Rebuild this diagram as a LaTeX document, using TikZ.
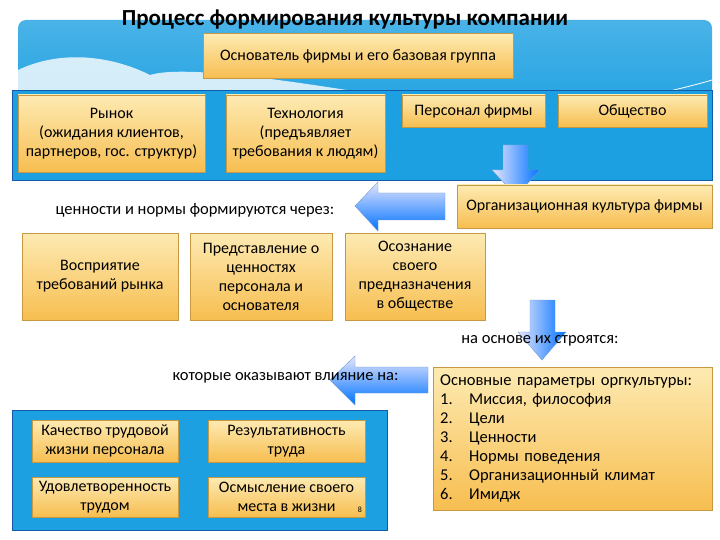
\documentclass[tikz,border=0pt]{standalone}
\usepackage{fontspec}
\setmainfont{Carlito}
\usetikzlibrary{shadows}
\definecolor{orA}{RGB}{253,234,178}
\definecolor{orB}{RGB}{247,190,80}
\definecolor{bl}{RGB}{28,160,225}
\definecolor{blD}{RGB}{20,90,170}
\tikzset{
 ob/.style={top color=orA,bottom color=orB,draw=orB!80!black,line width=0.3pt,align=center,font=\fontsize{16}{19}\selectfont,inner sep=0pt,drop shadow={opacity=0.3,shadow xshift=1pt,shadow yshift=-1pt}},
 band/.style={fill=bl,draw=blD,line width=0.8pt},
 arrV/.style={left color=blue!10,right color=blue!55!cyan,draw=blD!60,line width=0.4pt},
 arrH/.style={top color=blue!10,bottom color=blue!55!cyan,draw=blD!60,line width=0.4pt},
 lab/.style={font=\fontsize{16.5}{19}\selectfont}
}
\begin{document}
\begin{tikzpicture}[x=1pt,y=-1pt]
\useasboundingbox (0,0) rectangle (720,540);
\fill[white] (0,0) rectangle (720,540);
\shade[top color=bl!80!white,bottom color=bl,rounded corners=8pt] (18,20) rectangle (712,125);
\fill[white,opacity=0.8] (18,70) .. controls (60,50) and (110,55) .. (150,75) .. controls (200,60) and (400,100) .. (560,125) -- (18,125) -- cycle;
\draw[white,line width=0.8pt] (560,125) .. controls (620,100) and (680,90) .. (712,80);
\node[font=\bfseries\fontsize{23}{25}\selectfont] (title) at (345,20) {Процесс формирования культуры компании};
\node[ob,minimum width=310pt,minimum height=45pt] (f) at (358,56) {Основатель фирмы и его базовая группа};
\draw[band] (12,90) rectangle (712,180);
\node[ob,minimum width=187pt,minimum height=77pt] (m) at (111.5,133.5) {Рынок\\(ожидания клиентов,\\партнеров, гос. структур)};
\node[ob,minimum width=159pt,minimum height=77pt] (t) at (305.5,133.5) {Технология\\(предъявляет\\требования к людям)};
\node[ob,minimum width=143pt,minimum height=32pt] (p) at (473.5,111) {Персонал фирмы};
\node[ob,minimum width=149pt,minimum height=32pt] (s) at (632.5,111) {Общество};
\path[arrV] (503,145) -- (528,145) -- (528,170) -- (540,170) -- (516,196) -- (492,170) -- (503,170) -- cycle;
\node[ob,minimum width=255pt,minimum height=43pt] (oc) at (584.5,206.5) {Организационная культура фирмы};
\path[arrH] (445,193) -- (445,220) -- (378,220) -- (378,231) -- (355,206) -- (378,182) -- (378,193) -- cycle;
\node[lab] (t1) at (195,210) {ценности и нормы формируются через:};
\node[ob,minimum width=156pt,minimum height=87pt] (b1) at (100,276.5) {Восприятие\\требований рынка};
\node[ob,minimum width=142pt,minimum height=87pt] (b2) at (261,276.5) {Представление о\\ценностях\\персонала и\\основателя};
\node[ob,minimum width=140pt,minimum height=87pt] (b3) at (415,276.5) {Осознание\\своего\\предназначения\\в обществе};
\path[arrV] (530,300) -- (555,300) -- (555,332) -- (566,332) -- (542,360) -- (518,332) -- (530,332) -- cycle;
\node[lab] (t2) at (540,341) {на основе их строятся:};
\path[arrH] (428,367) -- (428,393) -- (355,393) -- (355,405) -- (330,380) -- (355,356) -- (355,367) -- cycle;
\node[lab,anchor=east] (t3) at (402,378) {которые оказывают влияние на:};
\node[ob,minimum width=279pt,minimum height=143pt,align=left,anchor=north west,text width=265pt,font=\fontsize{16.5}{19}\selectfont] (par) at (433,367) {Основные параметры оргкультуры:\\
1.\hspace{1em}Миссия, философия\\2.\hspace{1em}Цели\\3.\hspace{1em}Ценности\\4.\hspace{1em}Нормы поведения\\5.\hspace{1em}Организационный климат\\6.\hspace{1em}Имидж};
\draw[band] (12,410) rectangle (387,530);
\node[ob,minimum width=146pt,minimum height=42pt] (c1) at (105,441) {Качество трудовой\\жизни персонала};
\node[ob,minimum width=157pt,minimum height=42pt] (c2) at (286.5,441) {Результативность\\труда};
\node[ob,minimum width=146pt,minimum height=40pt] (c3) at (105,497) {Удовлетворенность\\трудом};
\node[ob,minimum width=157pt,minimum height=40pt] (c4) at (286.5,497) {Осмысление своего\\места в жизни};
\node[font=\fontsize{8}{9}\selectfont] (pg) at (360,510) {8};
\end{tikzpicture}
\end{document}
